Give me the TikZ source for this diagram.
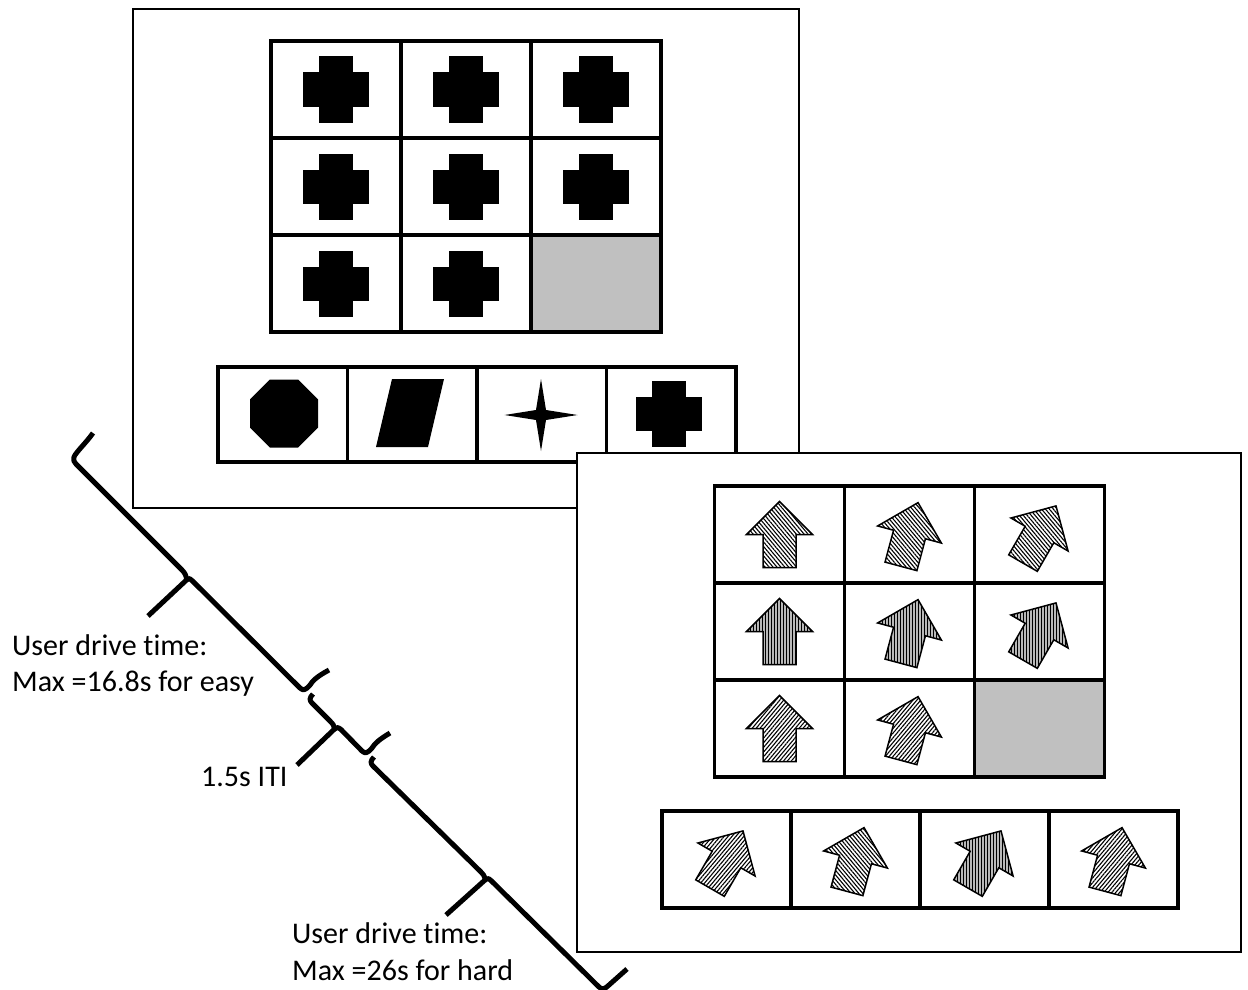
\documentclass[tikz,border=0pt]{standalone}
\usepackage{fontspec}
\setmainfont{Carlito}[Ligatures=NoCommon]
\usetikzlibrary{patterns.meta}
\definecolor{blankgray}{HTML}{C0C0C0}
\begin{document}
\begin{tikzpicture}[x=1pt,y=-1pt,
  panel/.style={draw=black,line width=2pt,fill=white},
  cell/.style={draw=black,line width=3.5pt,minimum width=130pt,minimum height=97pt,inner sep=0pt},
  acell/.style={cell,minimum width=129.5pt,minimum height=95pt},
  bcell/.style={cell,minimum width=129pt,minimum height=97pt},
  blank/.style={fill=blankgray},
  tl/.style={line width=5pt,line join=round,line cap=butt},
  lbl/.style={inner sep=0pt,anchor=base west,font=\fontsize{30}{36}\selectfont},
  pA/.style={pattern={Lines[angle=-50,distance=3pt,line width=1.1pt]}},
  pB/.style={preaction={fill=gray!55},pattern={Lines[angle=90,distance=3pt,line width=1pt]}},
  pC/.style={pattern={Lines[angle=50,distance=3pt,line width=1.1pt]}},
  pics/arw/.style={code={\draw[line width=1.5pt,line join=miter,#1] (0,-33) -- (33,0) -- (16.5,0) -- (16.5,33) -- (-16.5,33) -- (-16.5,0) -- (-33,0) -- cycle;}},
  pics/crs/.style={code={\fill (-33,-17) rectangle (33,17); \fill (-17,-33) rectangle (17,33);}}
]
\useasboundingbox (0,0) rectangle (1248,990);
\fill[white] (0,0) rectangle (1248,990);

% ---------- panel 1 ----------
\node[panel,minimum width=666pt,minimum height=499pt,inner sep=0pt] (p1) at (466,258.5) {};
\node[cell] (a11) at (336,89.5) {};
\node[cell] (a12) at (466,89.5) {};
\node[cell] (a13) at (596,89.5) {};
\node[cell] (a21) at (336,186.5) {};
\node[cell] (a22) at (466,186.5) {};
\node[cell] (a23) at (596,186.5) {};
\node[cell] (a31) at (336,283.5) {};
\node[cell] (a32) at (466,283.5) {};
\node[cell,blank] (a33) at (596,283.5) {};
\foreach \c in {a11,a12,a13,a21,a22,a23,a31,a32} { \pic at (\c.center) {crs}; }

\node[acell] (o1) at (282.75,414.5) {};
\node[acell] (o2) at (412.25,414.5) {};
\node[acell] (o3) at (541.75,414.5) {};
\node[acell] (o4) at (671.25,414.5) {};
\fill[shift={(284,413.5)}] (22.5:36.8) \foreach \a in {67.5,112.5,...,337.5} { -- (\a:36.8) } -- cycle;
\fill (392,379) -- (444,379) -- (428,447) -- (376,447) -- cycle;
\fill[shift={(541,415)}] (36.5,0) -- (5,-5) -- (0,-36) -- (-5,-5) -- (-36.5,0) -- (-5,5) -- (0,36) -- (5,5) -- cycle;
\pic at (668.5,413.5) {crs};

% ---------- panel 2 ----------
\node[panel,minimum width=664pt,minimum height=499pt,inner sep=0pt] (p2) at (909,702.5) {};
\node[cell] (b11) at (779.5,534.5) {};
\node[cell] (b12) at (909.5,534.5) {};
\node[cell] (b13) at (1039.5,534.5) {};
\node[cell] (b21) at (779.5,631.5) {};
\node[cell] (b22) at (909.5,631.5) {};
\node[cell] (b23) at (1039.5,631.5) {};
\node[cell] (b31) at (779.5,728.5) {};
\node[cell] (b32) at (909.5,728.5) {};
\node[cell,blank] (b33) at (1039.5,728.5) {};
\pic at (b11.center) {arw=pA};
\pic[rotate=-15] at (b12.center) {arw=pA};
\pic[rotate=-30] at (b13.center) {arw=pA};
\pic at (b21.center) {arw=pB};
\pic[rotate=-15] at (b22.center) {arw=pB};
\pic[rotate=-30] at (b23.center) {arw=pB};
\pic at (b31.center) {arw=pC};
\pic[rotate=-15] at (b32.center) {arw=pC};

\node[bcell] (c1) at (726.5,859.5) {};
\node[bcell] (c2) at (855.5,859.5) {};
\node[bcell] (c3) at (984.5,859.5) {};
\node[bcell] (c4) at (1113.5,859.5) {};
\pic[rotate=-30] at (c1.center) {arw=pC};
\pic[rotate=-15] at (c2.center) {arw=pA};
\pic[rotate=-30] at (c3.center) {arw=pB};
\pic[rotate=-15] at (c4.center) {arw=pC};

% ---------- timeline braces ----------
\draw[tl] (93,433) .. controls (86,443) and (76,452) .. (74,457) .. controls (73,460) and (74,462) .. (76,464) -- (182,570) .. controls (185,573) and (186.5,576) .. (186.5,580) -- (148,616);
\draw[tl] (186.5,580) .. controls (187.5,578) and (189.5,578) .. (192,580.5) -- (300,688) .. controls (303,691) and (306,690) .. (310,685) .. controls (313,680) and (318,676) .. (329,670);

\draw[tl] (313,694) .. controls (309,698) and (309.5,700.5) .. (312,703) -- (330,721) .. controls (333,724) and (334.5,726) .. (334.5,729) -- (297,765);
\draw[tl] (334.5,729) .. controls (336,727) and (338,727) .. (341,729.5) -- (362,751) .. controls (365,754) and (368,753) .. (372,748) .. controls (375,743) and (380,739) .. (390,733);

\draw[tl] (374,757) .. controls (370,761) and (370.5,763.5) .. (373,766) -- (480,871) .. controls (483,874) and (485,876) .. (485,880) -- (446,915);
\draw[tl] (485,880) .. controls (486.5,878) and (488.5,878) .. (491,880.5) -- (599,987) .. controls (602,990) and (605,989) .. (609,985) -- (627,969);

% ---------- labels ----------
\node[lbl] (t1) at (12,655) {User drive time:};
\node[lbl] (t2) at (12,691.7) {Max =16.8s for easy};
\node[lbl] (t3) at (201,786.7) {1.5s ITI};
\node[lbl] (t4) at (292,943.3) {User drive time:};
\node[lbl] (t5) at (292,980) {Max =26s for hard};
\end{tikzpicture}
\end{document}
